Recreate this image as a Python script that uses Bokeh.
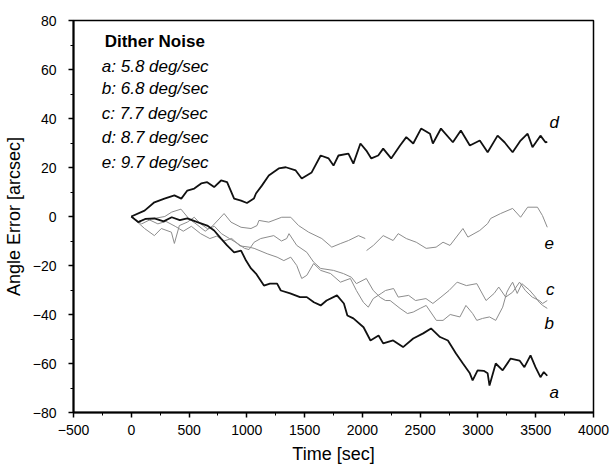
from bokeh.plotting import figure
from bokeh.models import Range1d, SingleIntervalTicker, Label
from bokeh.embed import file_html
from bokeh.resources import INLINE

GAP = float("nan")

# ---- angle error traces (time in s, error in arcsec) ----
a_t = [0, 60, 120, 200, 280, 350, 420, 485, 572, 657, 717, 777, 829, 890, 950, 993,
       1036, 1079, 1148, 1200, 1262, 1294, 1375, 1460, 1519, 1580, 1639, 1690, 1780,
       1840, 1870, 1922, 2010, 2070, 2140, 2180, 2266, 2352, 2440, 2526, 2594, 2672,
       2740, 2810, 2870, 2930, 2954, 2997, 3050, 3084, 3100, 3154, 3214, 3283, 3360,
       3402, 3455, 3498, 3541, 3570, 3600]
a_err = [0, -2.3, -1, -0.8, -2, -0.3, -1.5, -0.8, -2.3, -3.7, -5.7, -9, -11.8, -14.6,
         -13.9, -18, -21.2, -23.3, -28.2, -27.4, -27.4, -30.2, -31.4, -32.9, -32.9,
         -35, -36.3, -34.3, -32.2, -35.5, -40.4, -41.6, -45.2, -50.6, -48.6, -51.8,
         -50.6, -53.3, -49.8, -47.7, -45.7, -49.2, -50.6, -55.9, -60, -64, -66.9, -62.8,
         -63, -64, -69, -60, -62.8, -58, -58.8, -61.5, -56.7, -61.5, -65.6, -63.5, -65]

b_t = [0, 115, 200, 260, 347, 373, 416, 485, 545, 600, 660, 720, 780, 850, 920, 980,
       1019, 1063, 1120, 1233, 1300, 1345, 1365, 1432, 1519, 1578, 1639, 1750, 1836,
       1905, 1948, 2034, 2094, 2154, 2200, 2240, 2326, 2390, 2440, 2500, 2552, 2640,
       2698, 2760, 2844, 2896, 2954, 2990, 3040, 3100, 3154, 3214, 3250, 3274, 3300,
       3340, 3380, 3445, 3498, 3530, 3560, 3600]
b_err = [0, -4.9, -7.8, -4.9, -6.4, -11, -3.7, -2.3, -0.3, -3, -5, -4, -7, -9, -11, -13,
         -13.5, -10.5, -9, -7.8, -10, -9, -7, -11.8, -14.6, -18.6, -21.2, -22, -23.3,
         -24.8, -27.4, -25.3, -30.2, -33, -34.3, -34.3, -37.5, -39.6, -39, -37.5, -36.3,
         -42.4, -42.4, -40, -41, -36.3, -39.6, -42.4, -41.6, -41, -42.4, -37, -30.9,
         -28.8, -26.8, -31.4, -27.4, -30, -32.9, -35, -36.3, -37.5]

c_t = [0, 60, 140, 230, 300, 380, 450, 520, 600, 680, 740, 800, 870, 940, 1019, 1063,
       1176, 1262, 1320, 1380, 1432, 1475, 1519, 1578, 1639, 1725, 1810, 1896, 1948,
       2008, 2051, 2094, 2163, 2200, 2270, 2310, 2400, 2460, 2550, 2610, 2680, 2750,
       2820, 2900, 2990, 3070, 3140, 3180, 3240, 3300, 3360, 3410, 3470, 3530, 3560,
       3600]
c_err = [0, -2, -1, -3, -2, -4, -6, -4, -7, -9, -8, -10, -9, -12, -12.5, -13, -15.2,
         -16.6, -18, -16.6, -20, -25.3, -24, -19.2, -22, -23.3, -26.8, -25.3, -30.2, -35,
         -37, -33.5, -31.4, -30.2, -29.4, -32.9, -32.2, -34.3, -33.5, -35.5, -32.9,
         -30.2, -26.8, -28.2, -27.4, -34.3, -31.4, -28.8, -32.9, -30.9, -26.8, -30.2,
         -32.9, -34.3, -35.5, -34.3]

d_t = [0, 115, 200, 287, 373, 433, 485, 545, 605, 657, 717, 777, 829, 890, 950, 1001,
       1061, 1079, 1130, 1190, 1276, 1337, 1423, 1475, 1561, 1639, 1708, 1750, 1793,
       1879, 1922, 1983, 2034, 2077, 2137, 2180, 2249, 2326, 2380, 2440, 2508, 2585,
       2610, 2680, 2783, 2852, 2930, 3016, 3084, 3170, 3230, 3300, 3369, 3430, 3472,
       3541, 3584, 3600]
d_err = [0, 2.4, 5.8, 7.3, 8.6, 7.3, 10.6, 11.4, 13.5, 14, 12, 14.7, 14, 7.3, 6.5, 5.5,
         7.3, 9.4, 12.6, 16.7, 19.6, 20.1, 18.8, 15.5, 18, 24.9, 23.7, 20.8, 24.9, 25.7,
         21.6, 29.8, 26.9, 23.7, 24.9, 27.7, 23.7, 29, 32.4, 29.8, 35.9, 33.8, 29.8,
         35.9, 30.3, 35.1, 29, 31, 26.2, 33, 30.3, 26.2, 31, 33.8, 28.3, 33, 30.3, 30.5]

# the e record has a short dropout near 2030 s
e_t = [0, 90, 175, 290, 350, 430, 500, 560, 640, 700, 760, 803, 863, 950, 1036, 1088,
       1105, 1190, 1302, 1380, 1448, 1535, 1649, 1735, 1813, 1880, 1966, 2025, 2030,
       2036, 2095, 2180, 2266, 2310, 2380, 2466, 2552, 2638, 2698, 2758, 2870, 2913,
       3016, 3084, 3110, 3196, 3300, 3369, 3430, 3515, 3558, 3600]
e_err = [0, -3, -1, 0, 1.8, 3, -1, -3, -6, -4, -1, 1.2, -2.3, -4.4, -4.9, -3.7, -1.6,
         -2.3, -0.3, -0.3, -3.7, -6.4, -9, -12.5, -11, -9.8, -7.8, -9, GAP, -13.9,
         -11.8, -7.8, -9.8, -7, -9, -10.5, -13, -12.5, -10.5, -11.8, -4.9, -8.4, -5.7,
         -2.9, -0.8, 1.2, 3.3, -0.3, 3.8, 3.8, 0.4, -4.4]

title_text = "Dither Noise"
legend_lines = ["a: 5.8 deg/sec", "b: 6.8 deg/sec", "c: 7.7 deg/sec",
                "d: 8.7 deg/sec", "e: 9.7 deg/sec"]
curve_names = ["a", "b", "c", "d", "e"]
curve_tag_x = [3660, 3617, 3626, 3660, 3617]
curve_tag_y = [-72, -43.7, -29.8, 38.4, -11]

FONT = "Liberation Sans"
BLACK = "#111111"
GREY = "#8c8c8c"

p = figure(width=612, height=468, output_backend="svg", toolbar_location=None,
           x_range=Range1d(-500, 4000), y_range=Range1d(-80, 80),
           min_border_left=70, min_border_right=19, min_border_top=20,
           min_border_bottom=56, background_fill_color="white",
           border_fill_color="white")

p.grid.visible = False
p.outline_line_color = "black"
p.outline_line_width = 1.5
p.outline_line_alpha = 1

p.xaxis.ticker = SingleIntervalTicker(interval=500, num_minor_ticks=2)
p.yaxis.ticker = SingleIntervalTicker(interval=20, num_minor_ticks=2)
p.xaxis.axis_label = "Time [sec]"
p.yaxis.axis_label = "Angle Error [arcsec]"

for ax in (p.xaxis, p.yaxis):
    ax.axis_line_width = 2
    ax.axis_line_color = "black"
    ax.major_tick_out = 5
    ax.major_tick_in = 0
    ax.minor_tick_out = 3
    ax.minor_tick_in = 0
    ax.major_tick_line_width = 1.5
    ax.minor_tick_line_width = 1
    ax.major_label_text_font = FONT
    ax.major_label_text_font_size = "14px"
    ax.major_label_text_color = "black"
    ax.axis_label_text_font = FONT
    ax.axis_label_text_font_size = "18px"
    ax.axis_label_text_font_style = "normal"
    ax.axis_label_text_color = "black"

p.yaxis.major_label_standoff = 12
p.yaxis.axis_label_standoff = 6
p.xaxis.major_label_standoff = 7
p.xaxis.axis_label_standoff = 6

# gray traces first, black traces on top
p.line(b_t, b_err, line_color=GREY, line_width=1)
p.line(c_t, c_err, line_color=GREY, line_width=1)
p.line(e_t, e_err, line_color=GREY, line_width=1)
p.line(a_t, a_err, line_color=BLACK, line_width=1.8)
p.line(d_t, d_err, line_color=BLACK, line_width=1.8)

# legend block
p.add_layout(Label(x=-230, y=71.5, text=title_text, text_font=FONT,
                   text_font_size="17px", text_font_style="bold",
                   text_baseline="alphabetic", text_color="black"))
legend_y = [61.1, 52.1, 42.1, 32.1, 22.1]
for txt, yy in zip(legend_lines, legend_y):
    p.add_layout(Label(x=-255, y=yy, text=txt, text_font=FONT,
                       text_font_size="17px", text_font_style="italic",
                       text_baseline="alphabetic", text_color="black"))

# curve tags
for name, tx, ty in zip(curve_names, curve_tag_x, curve_tag_y):
    p.add_layout(Label(x=tx, y=ty, text=name, text_font=FONT,
                       text_font_size="17px", text_font_style="italic",
                       text_align="center", text_baseline="middle",
                       text_color="black"))

open("out.html", "w").write(file_html(p, INLINE))
